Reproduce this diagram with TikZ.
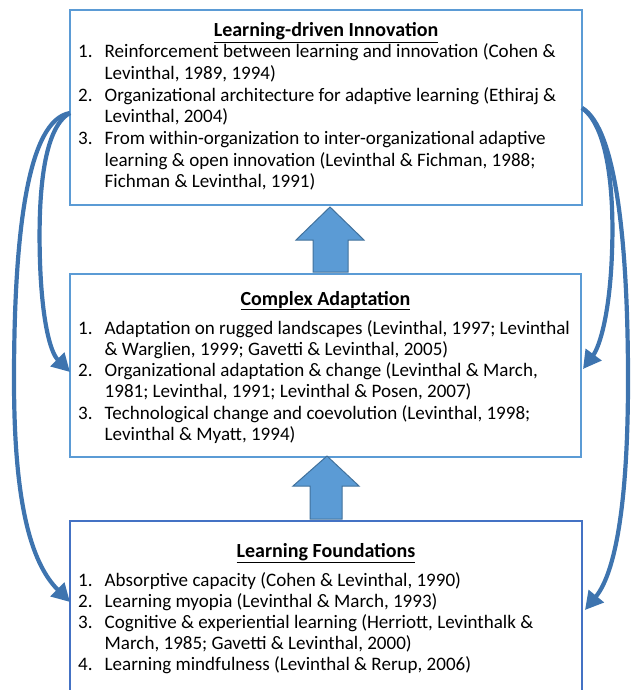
\documentclass[tikz,border=0pt]{standalone}
\usepackage{fontspec}
\setmainfont{Carlito}
\usetikzlibrary{arrows.meta}
\definecolor{boxline}{HTML}{5B9BD5}
\definecolor{boxdark}{HTML}{4472C4}
\definecolor{blockfill}{HTML}{5B9BD5}
\definecolor{blockedge}{HTML}{41719C}
\definecolor{loopline}{HTML}{3E74AF}
\newcommand\itemnum[3]{\node[num] (#1) at (78,#2) {#3};}
\newcommand\itemline[3]{\node[entry] (#1) at (104.5,#2) {#3};}
\begin{document}
\begin{tikzpicture}[x=1pt,y=-1pt,
  frame/.style={draw=boxline, line width=1.6pt, fill=white, inner sep=0pt},
  framedark/.style={draw=boxdark, line width=1.8pt, fill=white, inner sep=0pt},
  heading/.style={anchor=base, inner sep=0pt, font=\bfseries\fontsize{20}{22}\selectfont},
  num/.style={anchor=base west, inner sep=0pt, font=\fontsize{19.05}{21}\selectfont},
  entry/.style={anchor=base west, inner sep=0pt, font=\fontsize{19.05}{21}\selectfont},
  blockarrow/.style={fill=blockfill, draw=blockedge, line width=1pt, line join=miter},
  loop/.style={draw=loopline, line width=4.2pt, line cap=butt,
    -{Triangle[length=18pt,width=19pt]}}]
\useasboundingbox (0,0) rectangle (630,690);

% the three boxes
\node[frame, minimum width=512pt, minimum height=195pt] (innov) at (326,107.5) {};
\node[frame, minimum width=511pt, minimum height=183pt] (adapt) at (325.5,365.5) {};
\node[framedark, minimum width=512pt, minimum height=210pt] (found) at (326,626) {};

% upward block arrows between the boxes
\draw[blockarrow] (330,207) -- (364,240) -- (348,240) -- (348,272) -- (313,272) -- (313,240) -- (296,240) -- cycle;
\draw[blockarrow] (327,456) -- (359,486) -- (342,486) -- (342,519) -- (310,519) -- (310,486) -- (293,486) -- cycle;

% Learning-driven Innovation
\node[heading] (innovtitle) at (326,37) {\underline{Learning-driven Innovation}};
\itemnum{in1}{58}{1.}
\itemline{in1a}{58}{Reinforcement between learning and innovation (Cohen \&}
\itemline{in1b}{79.6}{Levinthal, 1989, 1994)}
\itemnum{in2}{101.2}{2.}
\itemline{in2a}{101.2}{Organizational architecture for adaptive learning (Ethiraj \&}
\itemline{in2b}{122.8}{Levinthal, 2004)}
\itemnum{in3}{144.4}{3.}
\itemline{in3a}{144.4}{From within-organization to inter-organizational adaptive}
\itemline{in3b}{166}{learning \& open innovation (Levinthal \& Fichman, 1988;}
\itemline{in3c}{187.6}{Fichman \& Levinthal, 1991)}

% Complex Adaptation
\node[heading] (adapttitle) at (325.5,305) {\underline{Complex Adaptation}};
\itemnum{ad1}{334}{1.}
\itemline{ad1a}{334}{Adaptation on rugged landscapes (Levinthal, 1997; Levinthal}
\itemline{ad1b}{355.3}{\& Warglien, 1999; Gavetti \& Levinthal, 2005)}
\itemnum{ad2}{376.6}{2.}
\itemline{ad2a}{376.6}{Organizational adaptation \& change (Levinthal \& March,}
\itemline{ad2b}{397.9}{1981; Levinthal, 1991; Levinthal \& Posen, 2007)}
\itemnum{ad3}{419.2}{3.}
\itemline{ad3a}{419.2}{Technological change and coevolution (Levinthal, 1998;}
\itemline{ad3b}{440.5}{Levinthal \& Myatt, 1994)}

% Learning Foundations
\node[heading] (foundtitle) at (326,557) {\underline{Learning Foundations}};
\itemnum{fo1}{586}{1.}
\itemline{fo1a}{586}{Absorptive capacity (Cohen \& Levinthal, 1990)}
\itemnum{fo2}{607}{2.}
\itemline{fo2a}{607}{Learning myopia (Levinthal \& March, 1993)}
\itemnum{fo3}{628}{3.}
\itemline{fo3a}{628}{Cognitive \& experiential learning (Herriott, Levinthalk \&}
\itemline{fo3b}{649}{March, 1985; Gavetti \& Levinthal, 2000)}
\itemnum{fo4}{670}{4.}
\itemline{fo4a}{670}{Learning mindfulness (Levinthal \& Rerup, 2006)}

% curved feedback arrows on both sides
\coordinate (lstart) at (70,113);
\coordinate (lmid) at (70,372);
\coordinate (lbot) at (70,602);
\coordinate (rstart) at (582,108);
\coordinate (rmid) at (583,369);
\coordinate (rbot) at (585,610);
\draw[loop] (lstart) .. controls (28,120) and (14,230) .. (14,380) .. controls (14,500) and (30,562) .. (lbot);
\draw[loop] (lstart) .. controls (42,128) and (38,200) .. (40,262) .. controls (42,320) and (50,352) .. (lmid);
\draw[loop] (rstart) .. controls (610,128) and (614,200) .. (612,252) .. controls (610,312) and (600,346) .. (rmid);
\draw[loop] (rstart) .. controls (617,128) and (628,250) .. (628,380) .. controls (628,500) and (616,572) .. (rbot);
\end{tikzpicture}
\end{document}
